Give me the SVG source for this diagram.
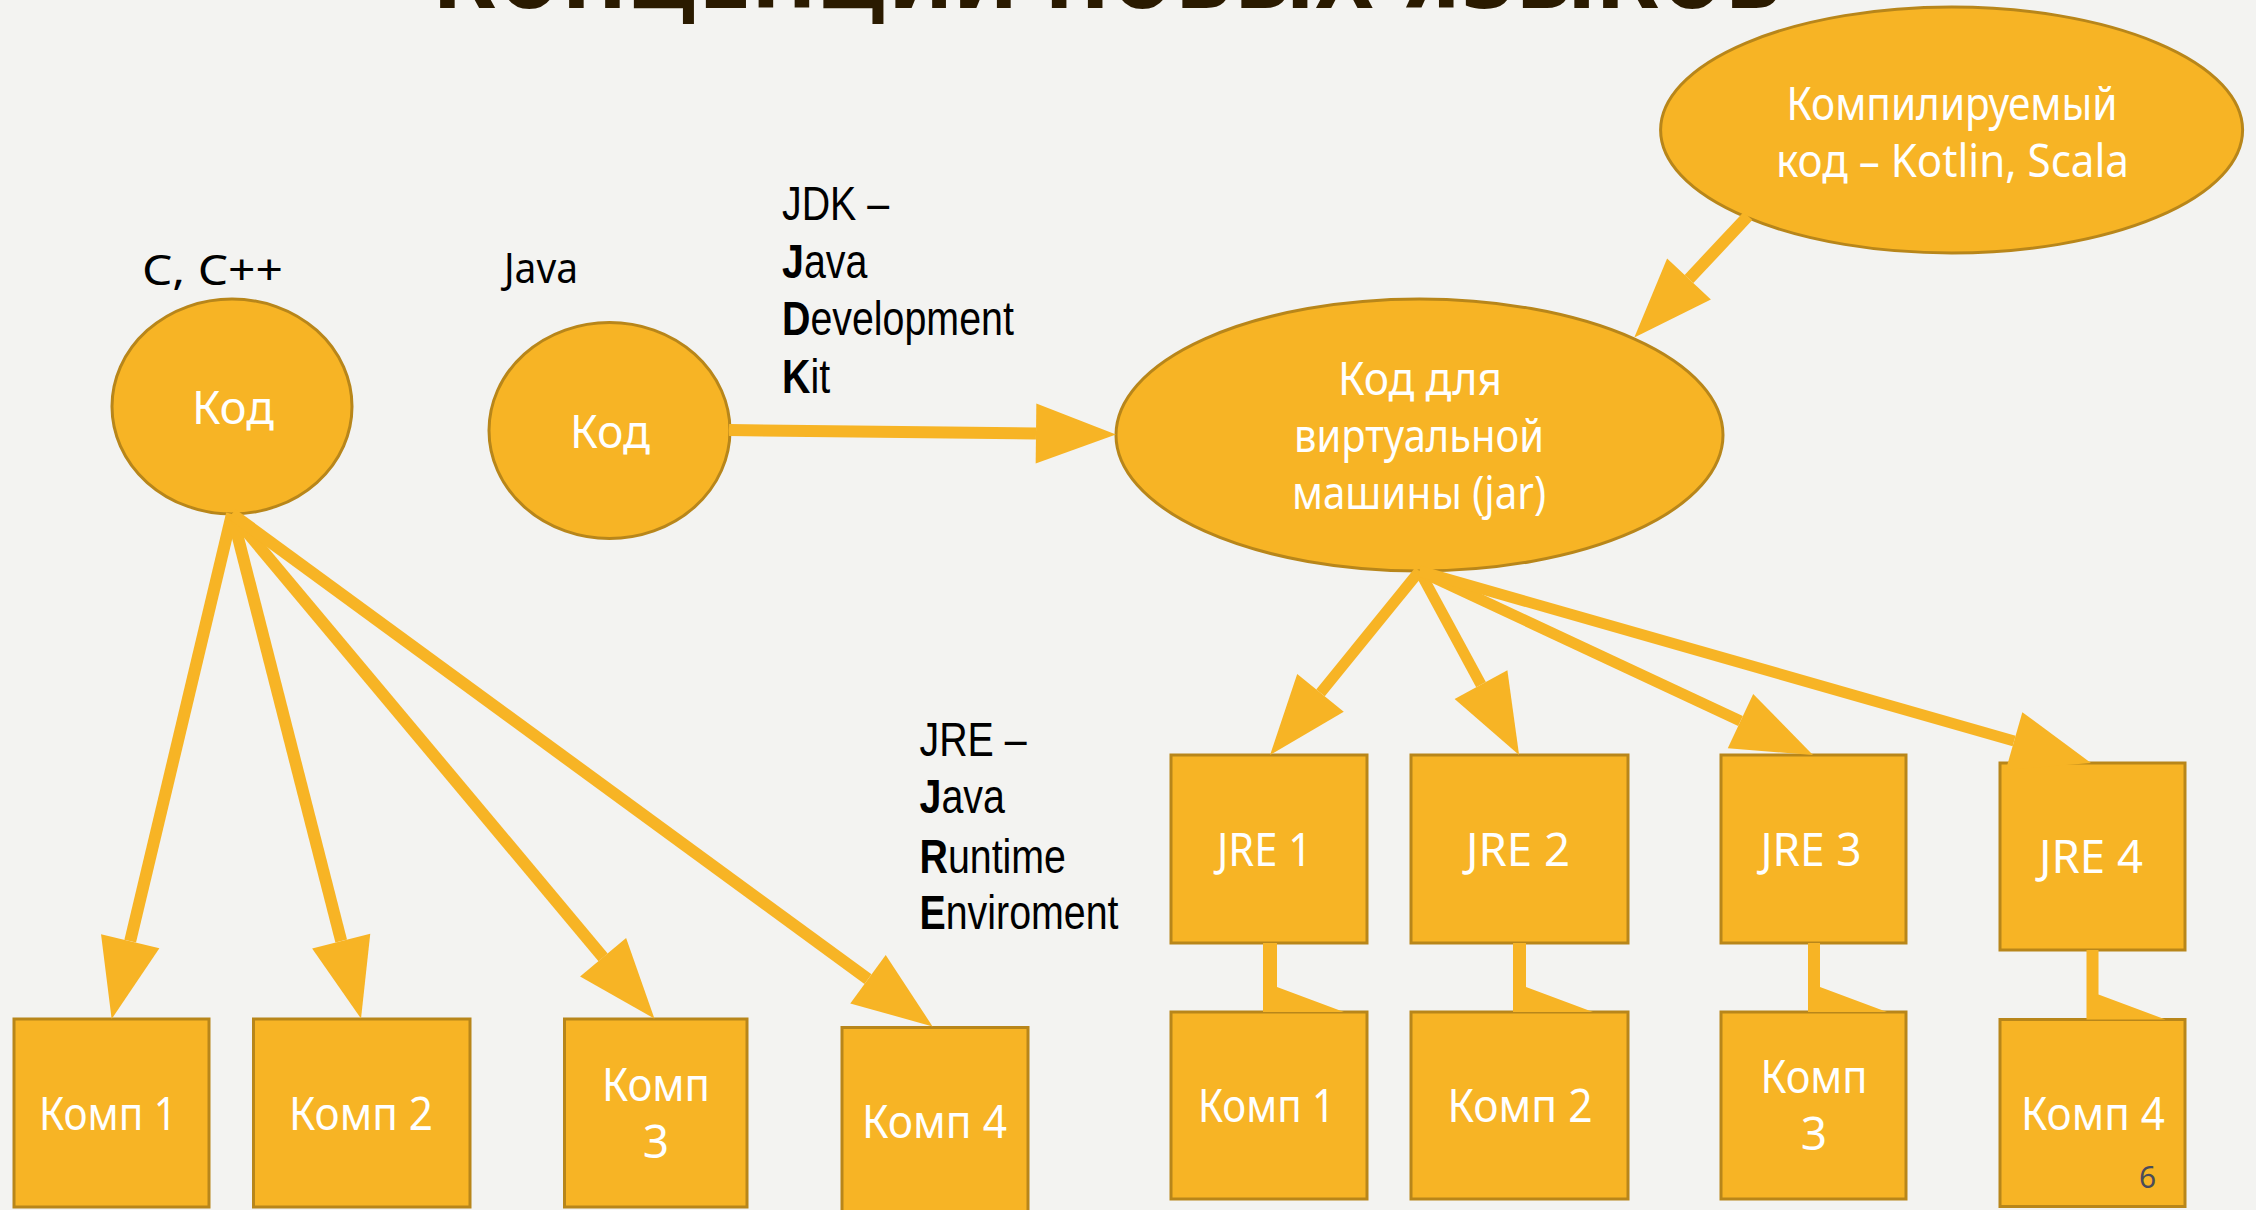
<svg xmlns="http://www.w3.org/2000/svg" width="2256" height="1210" viewBox="0 0 2256 1210">
<defs>
<style>
.bg{fill:#F3F3F1}
.node{fill:#F7B425;stroke:#B8861A;stroke-width:3}
.nt{font-family:"Noto Sans","Open Sans",sans-serif;font-size:46px;fill:#FFFFFF;text-anchor:middle}
.lbl{font-family:"Noto Sans","Open Sans",sans-serif;font-size:42px;fill:#000000}
.abbr{font-family:"Liberation Sans",Arial,sans-serif;font-size:48px;fill:#000000}
.abbr .b{font-weight:bold}
.edge{stroke:#F7B425;fill:none;stroke-linecap:butt}
.wedge{fill:#F7B425;stroke:none}
.title{font-family:"DejaVu Sans",sans-serif;font-weight:bold;font-size:100px;fill:#2A1A00}
.pg{font-family:"Noto Sans",sans-serif;font-size:30px;fill:#4B4B5A}
</style>
<marker id="head" markerUnits="userSpaceOnUse" markerWidth="80" markerHeight="60" viewBox="0 -30 80 60" refX="0" refY="0" orient="auto" overflow="visible">
<path d="M0,-30 L80,0 L0,30 Z" fill="#F7B425"/>
</marker>
</defs>
<rect class="bg" x="0" y="0" width="2256" height="1210"/>
<text class="title" x="433" y="8" textLength="1351" lengthAdjust="spacingAndGlyphs">КОНЦЕПЦИИ НОВЫХ ЯЗЫКОВ</text>

<g id="label-c"><text class="lbl" x="142" y="285" textLength="141" lengthAdjust="spacingAndGlyphs">C, C++</text></g>
<g id="label-java"><text class="lbl" x="504" y="283" textLength="74" lengthAdjust="spacingAndGlyphs">Java</text></g>
<g id="label-jdk" class="abbr" transform="translate(782,0) scale(0.82,1)">
<text x="0" y="220">JDK –</text>
<text x="0" y="278"><tspan class="b">J</tspan>ava</text>
<text x="0" y="335"><tspan class="b">D</tspan>evelopment</text>
<text x="0" y="393"><tspan class="b">K</tspan>it</text>
</g>
<g id="label-jre" class="abbr" transform="translate(919.5,0) scale(0.82,1)">
<text x="0" y="756">JRE –</text>
<text x="0" y="813"><tspan class="b">J</tspan>ava</text>
<text x="0" y="873"><tspan class="b">R</tspan>untime</text>
<text x="0" y="929"><tspan class="b">E</tspan>nviroment</text>
</g>

<g id="code-c"><ellipse class="node" cx="232" cy="406.5" rx="120" ry="107.5"/><text class="nt" x="233" y="424" textLength="82" lengthAdjust="spacingAndGlyphs">Код</text></g>
<g id="code-java"><ellipse class="node" cx="609.5" cy="430.5" rx="120.5" ry="108"/><text class="nt" x="610" y="448" textLength="80" lengthAdjust="spacingAndGlyphs">Код</text></g>
<g id="vm-code"><ellipse class="node" cx="1419.5" cy="435" rx="303.5" ry="136"/>
<text class="nt" x="1420" y="395" textLength="164" lengthAdjust="spacingAndGlyphs">Код для</text>
<text class="nt" x="1419" y="452" textLength="250" lengthAdjust="spacingAndGlyphs">виртуальной</text>
<text class="nt" x="1419" y="509" textLength="254" lengthAdjust="spacingAndGlyphs">машины (jar)</text></g>
<g id="compiled"><ellipse class="node" cx="1951.6" cy="130" rx="291" ry="123"/>
<text class="nt" x="1952" y="120" textLength="331" lengthAdjust="spacingAndGlyphs">Компилируемый</text>
<text class="nt" x="1952.5" y="177" textLength="353" lengthAdjust="spacingAndGlyphs">код – Kotlin, Scala</text></g>

<g id="comp-l1"><rect class="node" x="14" y="1019" width="195" height="188"/><text class="nt" x="108" y="1130" textLength="138" lengthAdjust="spacingAndGlyphs">Комп 1</text></g>
<g id="comp-l2"><rect class="node" x="253.5" y="1019" width="216.5" height="188"/><text class="nt" x="361" y="1130" textLength="144" lengthAdjust="spacingAndGlyphs">Комп 2</text></g>
<g id="comp-l3"><rect class="node" x="564.5" y="1019" width="182.5" height="188"/><text class="nt" x="656" y="1101" textLength="108" lengthAdjust="spacingAndGlyphs">Комп</text><text class="nt" x="656" y="1158">3</text></g>
<g id="comp-l4"><rect class="node" x="842" y="1027.5" width="186" height="190"/><text class="nt" x="934.5" y="1138" textLength="145" lengthAdjust="spacingAndGlyphs">Комп 4</text></g>

<g id="jre1"><rect class="node" x="1171" y="755" width="196" height="188"/><text class="nt" x="1264.5" y="866" textLength="95" lengthAdjust="spacingAndGlyphs">JRE 1</text></g>
<g id="jre2"><rect class="node" x="1411" y="755" width="217" height="188"/><text class="nt" x="1518" y="866" textLength="104" lengthAdjust="spacingAndGlyphs">JRE 2</text></g>
<g id="jre3"><rect class="node" x="1721" y="755" width="185" height="188"/><text class="nt" x="1811" y="866" textLength="101" lengthAdjust="spacingAndGlyphs">JRE 3</text></g>
<g id="jre4"><rect class="node" x="2000" y="763" width="185" height="187"/><text class="nt" x="2091" y="873" textLength="104" lengthAdjust="spacingAndGlyphs">JRE 4</text></g>

<g id="comp-r1"><rect class="node" x="1171" y="1012" width="196" height="187"/><text class="nt" x="1266.5" y="1122" textLength="137" lengthAdjust="spacingAndGlyphs">Комп 1</text></g>
<g id="comp-r2"><rect class="node" x="1411" y="1012" width="217" height="187"/><text class="nt" x="1520" y="1122" textLength="145" lengthAdjust="spacingAndGlyphs">Комп 2</text></g>
<g id="comp-r3"><rect class="node" x="1721" y="1012" width="185" height="187"/><text class="nt" x="1814" y="1093" textLength="107" lengthAdjust="spacingAndGlyphs">Комп</text><text class="nt" x="1814" y="1150">3</text></g>
<g id="comp-r4"><rect class="node" x="2000" y="1019.5" width="185" height="187"/><text class="nt" x="2093" y="1130" textLength="144" lengthAdjust="spacingAndGlyphs">Комп 4</text></g>

<g id="connectors">
<line class="edge" stroke-width="12" x1="232" y1="514" x2="130.2" y2="941.2" marker-end="url(#head)"/>
<line class="edge" stroke-width="12" x1="232" y1="514" x2="341.2" y2="941.1" marker-end="url(#head)"/>
<line class="edge" stroke-width="12" x1="232" y1="514" x2="603.1" y2="957.3" marker-end="url(#head)"/>
<line class="edge" stroke-width="12" x1="232" y1="514" x2="868" y2="979.2" marker-end="url(#head)"/>
<line class="edge" stroke-width="12" x1="729" y1="430" x2="1036" y2="433.5" marker-end="url(#head)"/>
<line class="edge" stroke-width="12" x1="1748" y1="216" x2="1689" y2="279" marker-end="url(#head)"/>
<line class="edge" stroke-width="11" x1="1419.5" y1="571" x2="1320.5" y2="692.9" marker-end="url(#head)"/>
<line class="edge" stroke-width="11" x1="1419.5" y1="571" x2="1481" y2="684.6" marker-end="url(#head)"/>
<line class="edge" stroke-width="11" x1="1419.5" y1="571" x2="1740.5" y2="721.1" marker-end="url(#head)"/>
<line class="edge" stroke-width="11" x1="1419.5" y1="571" x2="2014.1" y2="741" marker-end="url(#head)"/>
<path class="wedge" d="M1263,943 L1277,943 L1277,987 L1344,1012 L1263,1012 Z"/>
<path class="wedge" d="M1513,943 L1526,943 L1526,987 L1593,1012 L1513,1012 Z"/>
<path class="wedge" d="M1808,943 L1820,943 L1820,987 L1887,1012 L1808,1012 Z"/>
<path class="wedge" d="M2086.5,950 L2098.5,950 L2098.5,994.5 L2165.5,1019.5 L2086.5,1019.5 Z"/>
</g>
<text class="pg" x="2139" y="1188">6</text>
</svg>
